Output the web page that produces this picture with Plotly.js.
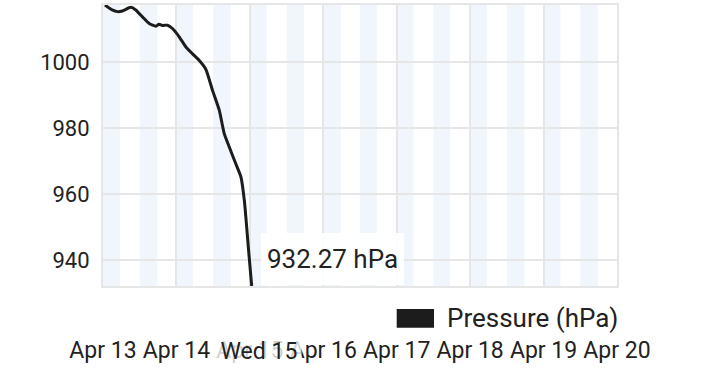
<!DOCTYPE html>
<html>
<head>
<meta charset="utf-8">
<script src="https://cdn.plot.ly/plotly-3.0.1.min.js"></script>
<style>
html,body{margin:0;padding:0;background:#fff;}
#chart{width:720px;height:386px;}
</style>
</head>
<body>
<div id="chart"></div>
<script>
// ---- data ----
const times = [
  '2026-04-13 00:39','2026-04-13 03:00','2026-04-13 04:42','2026-04-13 06:18',
  '2026-04-13 09:06','2026-04-13 10:42','2026-04-13 12:54','2026-04-13 15:06',
  '2026-04-13 17:18','2026-04-13 18:18','2026-04-13 19:24','2026-04-13 21:06',
  '2026-04-13 22:42','2026-04-14 00:54','2026-04-14 03:06','2026-04-14 05:12',
  '2026-04-14 07:24','2026-04-14 09:36','2026-04-14 11:48','2026-04-14 14:00',
  '2026-04-14 15:36','2026-04-14 17:18','2026-04-14 19:24','2026-04-14 21:06',
  '2026-04-14 22:12','2026-04-14 22:42','2026-04-14 23:36','2026-04-15 00:36'
];
const pressure = [
  1017.2, 1015.7, 1015.2, 1015.4,
  1016.5, 1015.7, 1013.6, 1011.6,
  1010.8, 1011.4, 1011.0, 1011.1,
  1010.1, 1007.6, 1004.5, 1002.5,
  1000.5, 997.8, 991.4, 985.4,
  978.4, 974.2, 969.2, 965.2,
  958.1, 953.0, 942.9, 932.27
];
const stripeStart = [
  '2026-04-13 00:00','2026-04-13 12:00','2026-04-14 00:00','2026-04-14 12:00',
  '2026-04-15 00:00','2026-04-15 12:00','2026-04-16 00:00','2026-04-16 12:00',
  '2026-04-17 00:00','2026-04-17 12:00','2026-04-18 00:00','2026-04-18 12:00',
  '2026-04-19 00:00','2026-04-19 12:00'
];
const stripeEnd = [
  '2026-04-13 05:30','2026-04-13 17:45','2026-04-14 05:30','2026-04-14 17:45',
  '2026-04-15 05:30','2026-04-15 17:45','2026-04-16 05:45','2026-04-16 17:30',
  '2026-04-17 05:30','2026-04-17 17:30','2026-04-18 05:30','2026-04-18 17:45',
  '2026-04-19 05:30','2026-04-19 17:45'
];
const xRange = ['2026-04-13 00:00','2026-04-20 00:00'];
const yRange = [932.27, 1017.2];
const yTicks = [940, 960, 980, 1000];
const seriesName = 'Pressure (hPa)';
const hoverDay = '2026-04-15';
const hoverDayLabel = 'Wed 15';

// ---- chart ----
const textColor = '#222222';
const gridColor = '#e6e6e6';

const shapes = stripeStart.map((s, i) => ({
  type: 'rect', xref: 'x', yref: 'paper', x0: s, x1: stripeEnd[i], y0: 0, y1: 1,
  fillcolor: '#f0f6fc', line: {width: 0}, layer: 'below'
}));
// legend swatch
shapes.push({
  type: 'rect', xref: 'paper', yref: 'paper',
  x0: 0.5714, x1: 0.644, y0: -0.1484, y1: -0.0819,
  fillcolor: '#1c1c1c', line: {width: 0}
});

const lastT = times[times.length - 1];
const lastP = pressure[pressure.length - 1];

const annotations = [
  {
    xref: 'paper', yref: 'paper', x: 0.6654, y: -0.1139,
    xanchor: 'left', yanchor: 'middle', showarrow: false,
    text: seriesName, font: {family: 'Roboto', size: 26, color: textColor}
  },
  {
    xref: 'x', yref: 'paper', x: lastT, y: 0,
    xanchor: 'left', yanchor: 'bottom', xshift: 9.5, yshift: 1,
    showarrow: false, text: lastP.toFixed(2) + ' hPa',
    font: {family: 'Roboto', size: 26, color: textColor},
    bgcolor: 'rgba(255,255,255,0.92)', borderpad: 0, borderwidth: 0,
    width: 143, height: 52
  },
  {
    xref: 'x', yref: 'paper', x: hoverDay, y: -0.2313,
    xanchor: 'center', yanchor: 'middle', xshift: 9,
    showarrow: false, text: hoverDayLabel,
    font: {family: 'Roboto', size: 23, color: textColor},
    bgcolor: 'rgba(255,255,255,0.8)', borderpad: 0, width: 84, height: 30
  }
];

const trace = {
  type: 'scatter', mode: 'lines', x: times, y: pressure, name: seriesName,
  line: {color: '#1c1c1c', width: 3, shape: 'spline', smoothing: 0.5},
  hoverinfo: 'skip', cliponaxis: true
};

const layout = {
  width: 720, height: 386,
  margin: {l: 103, r: 103, t: 5, b: 100, pad: 0},
  paper_bgcolor: '#ffffff', plot_bgcolor: '#ffffff',
  font: {family: 'Roboto', color: textColor},
  showlegend: false, hovermode: false,
  xaxis: {
    type: 'date', range: xRange, dtick: 86400000, tick0: xRange[0],
    tickformat: '%b %d', showgrid: true, gridcolor: gridColor, gridwidth: 2,
    showline: true, linecolor: gridColor, linewidth: 2, mirror: true,
    ticks: '', ticklabelstandoff: 42, zeroline: false,
    tickfont: {family: 'Roboto', size: 23, color: textColor}
  },
  yaxis: {
    range: yRange, tickvals: yTicks, showgrid: true, gridcolor: gridColor, gridwidth: 2,
    showline: true, linecolor: gridColor, linewidth: 2, mirror: true,
    ticks: '', ticklabelstandoff: 7, zeroline: false,
    tickfont: {family: 'Roboto', size: 22, color: textColor}
  },
  shapes: shapes,
  annotations: annotations
};

Plotly.newPlot('chart', [trace], layout, {staticPlot: true, displayModeBar: false});
</script>
</body>
</html>
